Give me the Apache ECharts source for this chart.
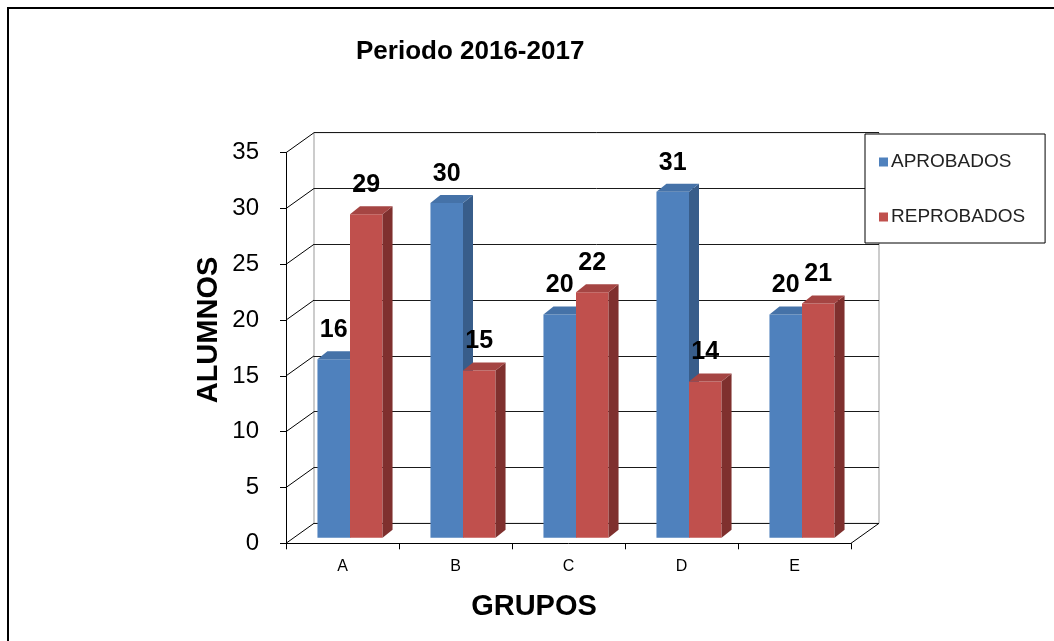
<!DOCTYPE html>
<html>
<head>
<meta charset="utf-8">
<script src="https://cdn.jsdelivr.net/npm/echarts@6/dist/echarts.min.js"></script>
<style>
  html, body { margin: 0; padding: 0; background: #fff; }
  #chart { width: 1054px; height: 641px; }
</style>
</head>
<body>
<div id="chart"></div>
<script>
const grupos = ['A', 'B', 'C', 'D', 'E']
const aprobados = [16, 30, 20, 31, 20]
const reprobados = [29, 15, 22, 14, 21]
const yTicks = [0, 5, 10, 15, 20, 25, 30, 35]

// fake 3d: back wall offset, bar depth position, bar side/top size
const WALL_DX = 28, WALL_DY = -20
const BAR_DX = 7.5, BAR_DY = -5.5
const SIDE_DX = 10, SIDE_DY = -8

const faces = {
  blue: { front: '#4F81BD', side: '#385D8A', top: '#4572A8' },
  red: { front: '#C0504D', side: '#7F302E', top: '#A54543' }
}

const FONT = '"Liberation Sans", Arial, sans-serif'

const barItem = (shift, col) => (params, api) => {
  const cat = api.value(0)
  const v = api.value(1)
  const top = api.coord([cat, v])
  const base = api.coord([cat, 0])
  const band = api.size([1, 0])[0]
  const bw = band * 0.288
  const x0 = top[0] + shift * bw + BAR_DX
  const yT = top[1] + BAR_DY
  const yB = base[1] + BAR_DY
  const x1 = x0 + bw
  return {
    type: 'group',
    children: [
      { type: 'rect', shape: { x: x0, y: yT, width: bw, height: yB - yT }, style: { fill: col.front } },
      { type: 'polygon', shape: { points: [[x1, yB], [x1, yT], [x1 + SIDE_DX, yT + SIDE_DY], [x1 + SIDE_DX, yB + SIDE_DY]] }, style: { fill: col.side } },
      { type: 'polygon', shape: { points: [[x0, yT], [x0 + SIDE_DX, yT + SIDE_DY], [x1 + SIDE_DX, yT + SIDE_DY], [x1, yT]] }, style: { fill: col.top } },
      { type: 'text', style: { text: String(v), x: x0 + bw / 2, y: yT - 29, align: 'center', verticalAlign: 'middle', font: 'bold 25px ' + FONT, fill: '#000' }, z2: 10 }
    ]
  }
}

// side wall lines from the front axis back to the wall
const wallItem = (params, api) => {
  const cs = params.coordSys
  const y = api.coord([0, api.value(1)])[1]
  return {
    type: 'line',
    shape: { x1: cs.x, y1: y, x2: cs.x + WALL_DX, y2: y + WALL_DY },
    style: { stroke: '#000', lineWidth: 1 }
  }
}

// right edge of the floor
const floorItem = (params, api) => {
  const cs = params.coordSys
  const y = api.coord([0, 0])[1]
  const x = cs.x + cs.width
  return {
    type: 'line',
    shape: { x1: x, y1: y, x2: x + WALL_DX, y2: y + WALL_DY },
    style: { stroke: '#000', lineWidth: 1 }
  }
}

const chart = echarts.init(document.getElementById('chart'))
const option = {
  animation: false,
  color: [faces.blue.front, faces.red.front],
  title: {
    text: 'Periodo 2016-2017',
    left: 351,
    top: 34,
    textStyle: { fontFamily: FONT, fontSize: 26, fontWeight: 'bold', color: '#000' }
  },
  legend: {
    data: ['APROBADOS', 'REPROBADOS'],
    orient: 'vertical',
    left: 865,
    top: 134,
    padding: [18, 20, 16, 14],
    itemGap: 35,
    itemWidth: 9,
    itemHeight: 9,
    icon: 'rect',
    backgroundColor: '#fff',
    borderColor: '#000',
    borderWidth: 1,
    textStyle: { fontFamily: FONT, fontSize: 19, color: '#222', lineHeight: 20, padding: [0, 0, 0, -2] }
  },
  graphic: [
    { type: 'rect', shape: { x: 8, y: 8, width: 1100, height: 700 }, style: { fill: 'none', stroke: '#000', lineWidth: 2 }, z: -10 },
    { type: 'text', x: 209, y: 330, rotation: Math.PI / 2, style: { text: 'ALUMNOS', align: 'center', verticalAlign: 'middle', font: 'bold 29px ' + FONT, fill: '#000' } },
    { type: 'text', x: 534, y: 607, style: { text: 'GRUPOS', align: 'center', verticalAlign: 'middle', font: 'bold 29px ' + FONT, fill: '#000' } }
  ],
  grid: [
    { left: 286, top: 152.7, width: 565, height: 390.6 },
    { left: 286 + WALL_DX, top: 152.7 + WALL_DY, width: 565, height: 390.6, show: true, borderColor: '#999', borderWidth: 1, backgroundColor: 'transparent' }
  ],
  xAxis: [
    {
      gridIndex: 0,
      type: 'category',
      data: grupos,
      axisLine: { lineStyle: { color: '#000', width: 1 } },
      axisTick: { show: true, length: 6, lineStyle: { color: '#000' } },
      axisLabel: { margin: 15, fontFamily: FONT, fontSize: 16, color: '#000' }
    },
    { gridIndex: 1, type: 'category', data: grupos, show: false }
  ],
  yAxis: [
    {
      gridIndex: 0,
      type: 'value',
      min: 0,
      max: 35,
      interval: 5,
      axisLine: { show: true, lineStyle: { color: '#000', width: 1 } },
      axisTick: { show: true, length: 6, lineStyle: { color: '#000' } },
      axisLabel: { margin: 27, fontFamily: FONT, fontSize: 24, color: '#000' },
      splitLine: { show: false }
    },
    {
      gridIndex: 1,
      type: 'value',
      min: 0,
      max: 35,
      interval: 5,
      axisLine: { show: false },
      axisTick: { show: false },
      axisLabel: { show: false },
      splitLine: { show: true, lineStyle: { color: '#1a1a1a', width: 1 } }
    }
  ],
  series: [
    {
      type: 'custom',
      name: 'wall',
      xAxisIndex: 0, yAxisIndex: 0,
      data: yTicks.map(v => [0, v]),
      renderItem: wallItem,
      clip: false,
      silent: true,
      z: 1
    },
    {
      type: 'custom',
      name: 'floor',
      xAxisIndex: 0, yAxisIndex: 0,
      data: [[0, 0]],
      renderItem: floorItem,
      clip: false,
      silent: true,
      z: 1
    },
    {
      type: 'custom',
      name: 'APROBADOS',
      xAxisIndex: 0, yAxisIndex: 0,
      itemStyle: { color: faces.blue.front },
      data: aprobados.map((v, i) => [i, v]),
      encode: { x: 0, y: 1 },
      renderItem: barItem(-1, faces.blue),
      clip: false,
      z: 3
    },
    {
      type: 'custom',
      name: 'REPROBADOS',
      xAxisIndex: 0, yAxisIndex: 0,
      itemStyle: { color: faces.red.front },
      data: reprobados.map((v, i) => [i, v]),
      encode: { x: 0, y: 1 },
      renderItem: barItem(0, faces.red),
      clip: false,
      z: 4
    }
  ]
}
chart.setOption(option)
</script>
</body>
</html>
